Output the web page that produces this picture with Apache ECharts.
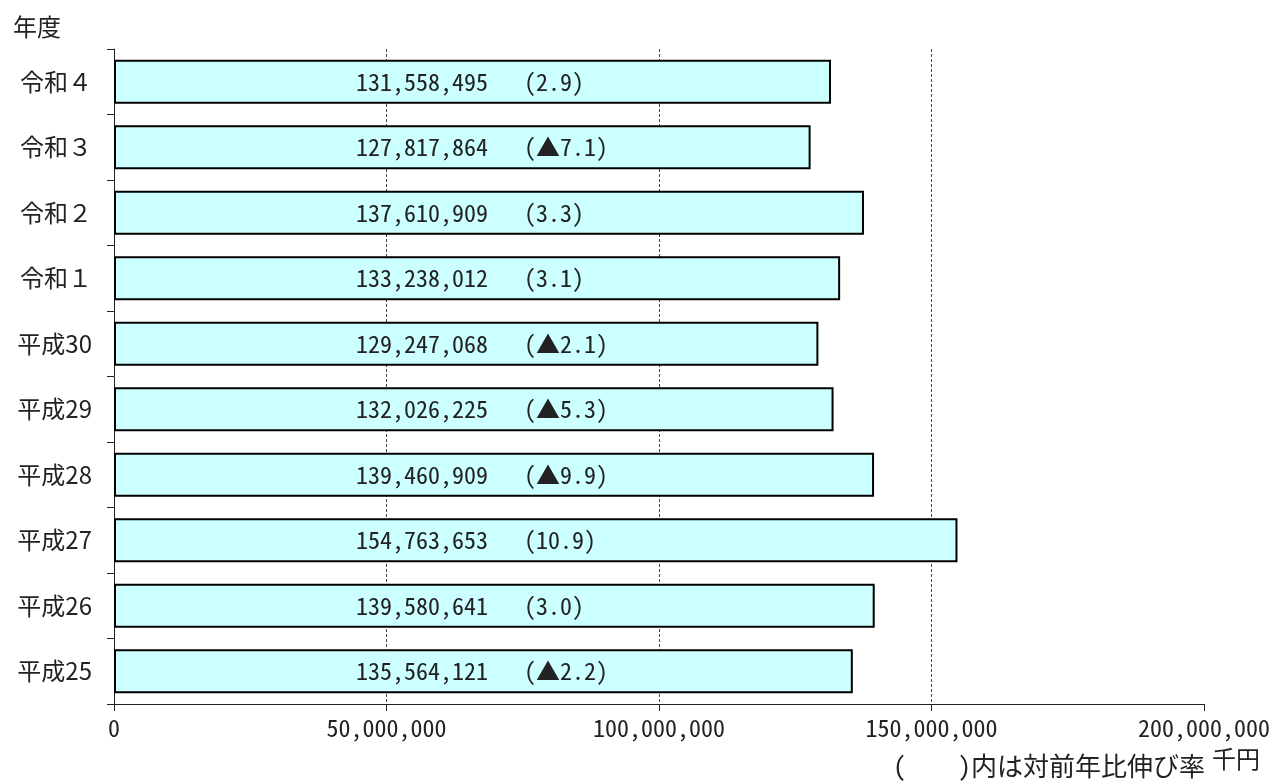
<!DOCTYPE html>
<html><head><meta charset="utf-8">
<script src="https://cdn.jsdelivr.net/npm/echarts@6/dist/echarts.min.js"></script>
<style>html,body{margin:0;padding:0;background:#fff}#c{width:1274px;height:783px}</style>
</head><body><div id="c"></div>
<script>
const categories = ['平成25','平成26','平成27','平成28','平成29','平成30','令和１','令和２','令和３','令和４'];
const values = [135564121,139580641,154763653,139460909,132026225,129247068,133238012,137610909,127817864,131558495];
const rates = ['▲2.2','3.0','10.9','▲9.9','▲5.3','▲2.1','3.1','3.3','▲7.1','2.9'];
const xTicks = [0,50000000,100000000,150000000,200000000];

const fmt = v => v.toString().replace(/\B(?=(\d{3})+(?!\d))/g, ',');
const F = "'Noto Sans Mono CJK JP', 'DejaVu Sans Mono', 'Noto Sans CJK JP', monospace";
const FJ = "'Noto Sans CJK JP', sans-serif";
const chart = echarts.init(document.getElementById('c'));
chart.setOption({
  animation:false,
  textStyle:{fontFamily:F},
  grid:{left:114,right:70,top:49,bottom:79,containLabel:false},
  graphic:[
    {type:'text',left:13,top:15,style:{text:'年度',font:'24px '+FJ,fill:'#222'}},
    {type:'text',left:893,top:753,style:{text:'(　　)内は対前年比伸び率',font:'26px '+F,fill:'#222'}},
    {type:'text',left:1212,top:747,style:{text:'千円',font:'24px '+FJ,fill:'#222'}}
  ],
  xAxis:{type:'value',min:xTicks[0],max:xTicks[xTicks.length-1],interval:xTicks[1]-xTicks[0],
    axisLine:{show:true,lineStyle:{color:'#222',width:1}},
    axisTick:{show:true,length:7,lineStyle:{color:'#222'}},
    axisLabel:{fontSize:24,color:'#222',margin:12,fontFamily:F,formatter:v=>fmt(v)},
    splitLine:{show:true,showMinLine:false,showMaxLine:false,lineStyle:{color:'#444',type:[3,2],width:1}}
  },
  yAxis:{type:'category',data:categories,
    axisLine:{show:true,lineStyle:{color:'#222',width:1}},
    axisTick:{show:true,length:7,alignWithLabel:false,lineStyle:{color:'#222'}},
    axisLabel:{fontSize:24,color:'#222',margin:22,align:'right',fontFamily:FJ}
  },
  series:[{type:'bar',data:values,barWidth:'67%',
    itemStyle:{color:'#CCFFFF',borderColor:'#000',borderWidth:2},
    label:{show:true,position:'insideLeft',offset:[237,0],fontSize:24,color:'#222',fontFamily:F,
      formatter:p=>fmt(p.value)+'   ('+rates[p.dataIndex]+')'}
  }]
});
</script></body></html>
